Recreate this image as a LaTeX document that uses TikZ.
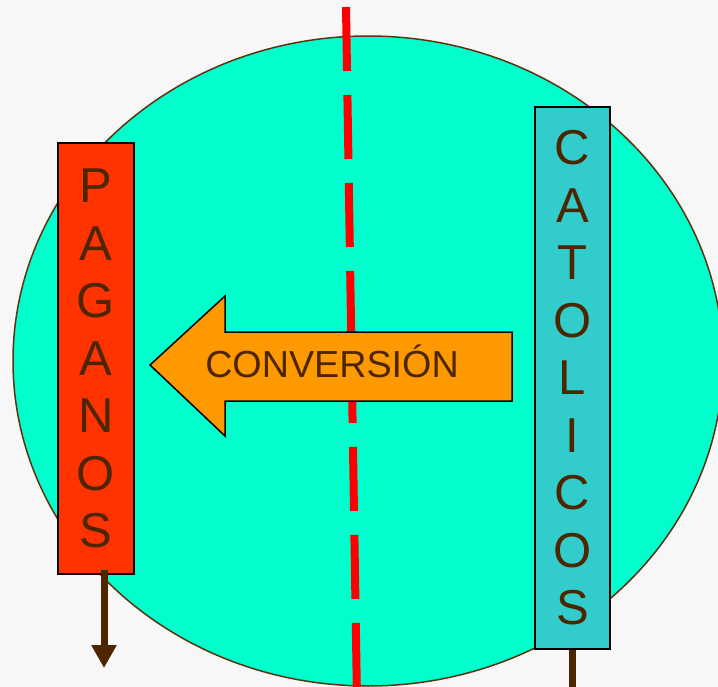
\documentclass[tikz,border=0pt]{standalone}
\usepackage{fontspec}
\setmainfont{Liberation Sans}
\usetikzlibrary{arrows.meta,positioning}

\definecolor{fondo}{HTML}{F7F7F7}
\definecolor{turquesa}{HTML}{00FFCC}
\definecolor{bordecirc}{HTML}{5C3311}
\definecolor{cafe}{HTML}{4D2600}
\definecolor{rojizo}{HTML}{FF3300}
\definecolor{celeste}{HTML}{33CCCC}
\definecolor{naranja}{HTML}{FF9900}

\tikzset{
  columna/.style={draw=black, line width=1.5pt, inner sep=0pt, align=center,
    text=cafe, font=\fontsize{49}{57.5}\selectfont},
  flechacafe/.style={draw=cafe, line width=7pt, -{Triangle[length=23pt,width=24pt]}},
  rayado/.style={draw=red, line width=8pt, dash pattern=on 64pt off 24pt}
}

\begin{document}
\begin{tikzpicture}[x=1pt,y=-1pt]
\useasboundingbox (0,0) rectangle (718,687);
\fill[fondo] (0,0) rectangle (718,687);
\clip (0,0) rectangle (718,687);

% circulo de fondo
\fill[turquesa, draw=bordecirc, line width=1.5pt] (368,361) ellipse [x radius=355, y radius=325];

% linea divisoria
\draw[rayado] (346,7) -- (357,700);

% flecha de conversion
\fill[naranja, draw=black, line width=1.5pt]
  (150,365) -- (225,296) -- (225,332) -- (512,332) -- (512,401) -- (225,401) -- (225,436) -- cycle;
\node[anchor=base, text=cafe, font=\fontsize{37.7}{40}\selectfont] (conv) at (332,377) {CONVERSIÓN};

% columnas
\node[columna, fill=rojizo, minimum width=76pt, minimum height=431pt] (pag) at (96,358.5)
  {P\\A\\G\\A\\N\\O\\S};
\node[columna, fill=celeste, minimum width=75pt, minimum height=542pt] (cat) at (572.5,378)
  {C\\A\\T\\O\\L\\I\\C\\O\\S};

\coordinate (pagfin) at (104,668);
\coordinate (catfin) at (572,700);
\draw[flechacafe] ([yshift=5pt]pag.south -| pagfin) -- (pagfin);
\draw[draw=cafe, line width=7pt] (cat.south -| catfin) -- (catfin);
\end{tikzpicture}
\end{document}
